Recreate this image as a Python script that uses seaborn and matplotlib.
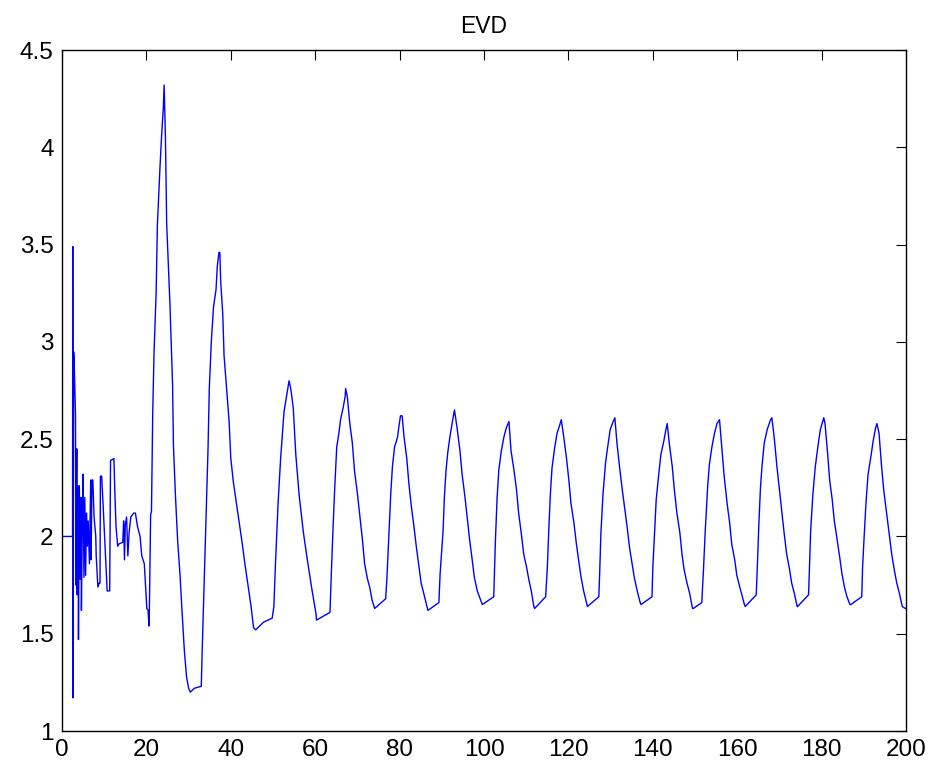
import matplotlib
matplotlib.use("Agg")
import matplotlib.pyplot as plt
import seaborn as sns
import pandas as pd

# valores (x, EVD)
# tramo inicial, oscilaciones rapidas
inicio_x = [0, 2.5, 2.55, 2.65, 2.75, 2.85, 3.2, 3.3, 3.5, 3.6, 3.8, 3.9, 4.1, 4.3, 4.5, 4.6,
            4.8, 5.0, 5.2, 5.4, 5.6, 5.8, 6.0, 6.2, 6.5, 6.8, 6.9, 7.1, 7.3, 7.6, 8.0, 8.1,
            8.5, 8.8, 9.0, 9.1, 9.4, 9.5, 9.7, 10.1, 10.5, 10.7, 11.3, 11.5, 12.3, 12.5, 12.8,
            13.2, 13.4, 14.4, 14.6, 14.8, 15.0, 15.3, 15.6, 15.9, 16.3, 17.0, 17.4, 17.9,
            18.5, 18.9, 19.5, 19.8, 20.1, 20.4, 20.6]
inicio_y = [2.00, 2.00, 3.49, 1.17, 2.95, 2.92, 2.62, 1.75, 2.45, 1.70, 2.26, 1.47, 2.26, 1.78, 2.20, 1.62,
            2.05, 2.32, 1.79, 2.20, 1.80, 2.12, 1.95, 2.08, 1.86, 2.29, 1.88, 2.29, 2.29, 2.10, 2.00, 1.90,
            1.74, 1.76, 1.76, 2.31, 2.31, 2.26, 2.18, 2.00, 1.81, 1.72, 1.72, 2.39, 2.40, 2.24, 2.05,
            1.95, 1.96, 1.97, 2.08, 1.88, 2.06, 2.10, 1.90, 2.02, 2.10, 2.12, 2.12, 2.05,
            2.00, 1.90, 1.86, 1.74, 1.63, 1.62, 1.54]

# picos grandes 20 - 60
picos_x = [20.7, 21.0, 21.2, 21.5, 21.8, 22.3, 22.6, 23.2, 23.6, 24.0, 24.2,
           24.5, 24.8, 25.6, 26.2, 26.4, 26.9, 27.4, 28.0, 28.4, 29.0, 29.5, 30.0, 30.4, 31.4, 33.0,
           33.2, 33.6, 34.1, 34.6, 34.9, 35.4, 35.9, 36.5, 36.8, 37.2, 37.4,
           37.6, 38.1, 38.4, 39.0, 39.6, 40.0, 40.6, 41.6, 42.6, 43.4, 44.2, 44.8, 45.4, 45.9,
           47.8, 49.8, 50.2, 50.6, 51.2, 51.8, 52.6, 53.2, 53.8,
           54.2, 54.8, 55.4, 56.2, 57.2, 58.2, 59.2, 60.2]
picos_y = [1.62, 2.11, 2.13, 2.64, 2.94, 3.25, 3.60, 3.89, 4.06, 4.20, 4.32,
           4.06, 3.61, 3.18, 2.78, 2.47, 2.20, 1.98, 1.79, 1.63, 1.41, 1.28, 1.22, 1.20, 1.22, 1.23,
           1.40, 1.70, 2.08, 2.45, 2.76, 3.01, 3.18, 3.27, 3.39, 3.46, 3.46,
           3.31, 3.14, 2.93, 2.76, 2.59, 2.40, 2.28, 2.13, 1.98, 1.85, 1.73, 1.64, 1.53, 1.52,
           1.56, 1.58, 1.64, 1.87, 2.17, 2.40, 2.64, 2.72, 2.80,
           2.76, 2.66, 2.42, 2.21, 2.02, 1.87, 1.73, 1.60]

# ciclos estables 60 - 200
ciclos_x = [60.3, 63.5, 63.8, 64.2, 64.6, 65.1, 65.6, 66.0, 66.6, 67.1, 67.2,
            67.6, 68.2, 68.8, 69.3, 70.0, 70.6, 71.2, 71.7, 72.4, 72.9, 73.5, 74.1,
            76.7, 77.0, 77.5, 77.9, 78.3, 78.8, 79.5, 79.8, 80.2, 80.6,
            81.0, 81.7, 82.2, 82.8, 83.4, 84.0, 84.6, 85.1, 85.8, 86.7,
            89.3, 89.6, 90.3, 90.6, 91.0, 91.4, 91.9, 92.5, 93.0,
            93.6, 94.3, 94.8, 95.5, 96.0, 96.6, 97.2, 97.7, 98.4, 99.6,
            102.3, 102.7, 103.1, 103.5, 104.1, 104.7, 105.3, 105.9,
            106.4, 107.1, 107.7, 108.2, 108.8, 109.4, 110.1, 110.6, 111.2, 111.8, 112.0,
            114.6, 115.0, 115.3, 115.7, 116.1, 116.7, 117.3, 117.9, 118.3,
            118.9, 119.5, 120.1, 120.6, 121.3, 121.9, 122.4, 123.0, 123.6, 124.4, 124.5,
            127.2, 127.4, 127.7, 128.2, 128.8, 129.3, 129.9, 130.6, 131.0,
            131.5, 132.1, 132.7, 133.3, 133.9, 134.5, 135.1, 135.6, 136.3, 137.0, 137.2,
            139.8, 140.0, 140.4, 140.8, 141.4, 141.9, 142.6, 143.1, 143.4,
            144.0, 144.6, 145.1, 145.7, 146.4, 146.9, 147.4, 148.1, 148.7, 149.4, 149.6,
            151.6, 152.0, 152.4, 153.0, 153.4, 154.0, 154.6, 155.2, 155.8,
            156.4, 156.9, 157.6, 158.2, 158.7, 159.4, 159.9, 160.6, 161.1, 161.7, 161.9,
            164.5, 164.7, 165.1, 165.5, 165.9, 166.4, 167.1, 167.9, 168.2,
            168.8, 169.4, 170.0, 170.6, 171.1, 171.7, 172.4, 172.9, 173.5, 174.2, 174.3,
            176.9, 177.1, 177.4, 177.9, 178.5, 179.1, 179.7, 180.5,
            180.8, 181.4, 181.9, 182.5, 183.0, 183.7, 184.3, 184.8, 185.4, 186.0, 186.7, 186.9,
            189.5, 189.7, 190.0, 190.5, 191.0, 191.6, 192.2, 192.8, 193.1,
            193.6, 194.2, 194.7, 195.4, 196.0, 196.6, 197.2, 197.8, 198.4, 199.1, 199.8, 200.0]
ciclos_y = [1.57, 1.61, 1.80, 2.03, 2.24, 2.46, 2.53, 2.60, 2.66, 2.72, 2.76,
            2.72, 2.58, 2.48, 2.34, 2.22, 2.10, 1.98, 1.86, 1.78, 1.74, 1.67, 1.63,
            1.68, 1.79, 2.03, 2.22, 2.36, 2.46, 2.51, 2.56, 2.62, 2.62,
            2.52, 2.40, 2.27, 2.15, 2.05, 1.94, 1.84, 1.76, 1.70, 1.62,
            1.66, 1.81, 2.03, 2.20, 2.34, 2.43, 2.51, 2.59, 2.65,
            2.56, 2.44, 2.32, 2.20, 2.10, 1.98, 1.88, 1.79, 1.72, 1.65,
            1.69, 1.98, 2.20, 2.34, 2.44, 2.51, 2.56, 2.59,
            2.44, 2.34, 2.24, 2.12, 2.02, 1.91, 1.84, 1.78, 1.72, 1.64, 1.63,
            1.69, 1.84, 2.01, 2.21, 2.35, 2.45, 2.53, 2.57, 2.60,
            2.51, 2.41, 2.29, 2.17, 2.07, 1.96, 1.88, 1.79, 1.72, 1.65, 1.64,
            1.69, 1.81, 2.02, 2.22, 2.38, 2.46, 2.55, 2.59, 2.61,
            2.48, 2.36, 2.25, 2.15, 2.05, 1.94, 1.86, 1.79, 1.72, 1.66, 1.65,
            1.69, 1.84, 2.01, 2.19, 2.32, 2.42, 2.49, 2.55, 2.58,
            2.46, 2.36, 2.24, 2.12, 2.02, 1.91, 1.83, 1.76, 1.71, 1.63, 1.63,
            1.66, 1.83, 2.02, 2.26, 2.37, 2.46, 2.53, 2.58, 2.60,
            2.44, 2.31, 2.17, 2.07, 1.96, 1.88, 1.80, 1.74, 1.70, 1.65, 1.64,
            1.70, 1.81, 2.05, 2.25, 2.37, 2.48, 2.55, 2.60, 2.61,
            2.50, 2.36, 2.24, 2.12, 2.02, 1.91, 1.83, 1.76, 1.71, 1.64, 1.64,
            1.70, 1.83, 2.03, 2.21, 2.36, 2.46, 2.55, 2.61,
            2.58, 2.43, 2.29, 2.19, 2.08, 1.98, 1.89, 1.81, 1.74, 1.69, 1.65, 1.65,
            1.69, 1.84, 1.97, 2.17, 2.32, 2.40, 2.49, 2.56, 2.58,
            2.53, 2.36, 2.24, 2.12, 2.02, 1.91, 1.83, 1.76, 1.71, 1.64, 1.63, 1.63]

df = pd.DataFrame({
    'x': inicio_x + picos_x + ciclos_x,
    'evd': inicio_y + picos_y + ciclos_y,
})

sns.set_style('white')
plt.rcParams['font.family'] = ['Liberation Sans', 'DejaVu Sans']

fig = plt.figure(figsize=(9.31, 7.67), dpi=100)
ax = fig.add_axes([0.0666, 0.0469, 0.9066, 0.8879])

sns.lineplot(data=df, x='x', y='evd', ax=ax, sort=False, estimator=None,
             color='#0000ff', linewidth=1.0)

ax.set_xlim(0, 200)
ax.set_ylim(1, 4.5)
ax.set_xticks(range(0, 201, 20))
ax.set_yticks([1, 1.5, 2, 2.5, 3, 3.5, 4, 4.5])
ax.set_yticklabels(['1', '1.5', '2', '2.5', '3', '3.5', '4', '4.5'])
ax.set_xlabel('')
ax.set_ylabel('')
ax.set_title('EVD', fontsize=16.5, pad=12, color='black')
ax.tick_params(direction='in', length=7, width=0.8, top=True, right=True,
               labelsize=17.5, colors='black', pad=6)
for s in ax.spines.values():
    s.set_color('black')
    s.set_linewidth(1.0)

fig.savefig('out.png', dpi=100)
